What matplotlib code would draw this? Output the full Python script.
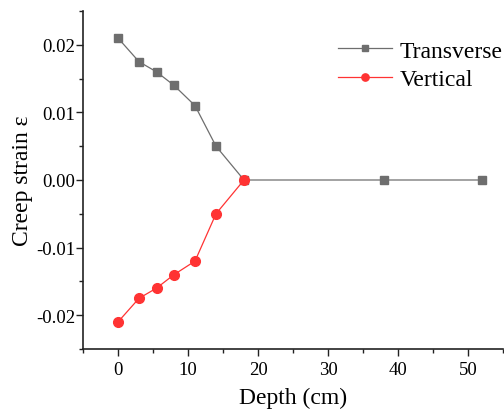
import matplotlib
matplotlib.use("Agg")
import matplotlib.pyplot as plt
from matplotlib.ticker import MultipleLocator, FuncFormatter

depth_t = [0, 3, 5.5, 8, 11, 14, 18, 38, 52]
strain_t = [0.021, 0.0175, 0.016, 0.014, 0.011, 0.005, 0.0, 0.0, 0.0]
depth_v = [0, 3, 5.5, 8, 11, 14, 18]
strain_v = [-0.021, -0.0175, -0.016, -0.014, -0.012, -0.005, 0.0]

plt.rcParams['font.family'] = ['Liberation Serif', 'DejaVu Serif']
plt.rcParams['mathtext.fontset'] = 'stix'

fig = plt.figure(figsize=(5.04, 4.14), dpi=100)
ax = fig.add_axes([83/504, 1-350/414, 420/504, 338/414])

ax.plot(depth_t, strain_t, color='#6e6e6e', lw=0.9, marker='s', ms=6, mec='#6e6e6e', label='Transverse')
ax.plot(depth_v, strain_v, color='#ff3333', lw=0.9, marker='o', ms=7, mec='#ff3333', label='Vertical')

ax.set_xlim(-5, 55)
ax.set_ylim(-0.025, 0.025)
ax.xaxis.set_major_locator(MultipleLocator(10))
ax.xaxis.set_minor_locator(MultipleLocator(5))
ax.yaxis.set_major_locator(MultipleLocator(0.01))
ax.yaxis.set_minor_locator(MultipleLocator(0.005))
ax.yaxis.set_major_formatter(FuncFormatter(lambda v, p: f"{v:.2f}".replace("-0.00", "0.00")))

for s in ['top', 'right']:
    ax.spines[s].set_visible(False)
for s in ['left', 'bottom']:
    ax.spines[s].set_linewidth(1.2)
    ax.spines[s].set_color('#222222')
ax.tick_params(which='major', direction='out', length=5, width=1.0, labelsize=13.5, colors='#222222', labelcolor='black')
ax.tick_params(axis='y', which='major', pad=0.8)
ax.tick_params(axis='x', which='major', pad=4)
ax.tick_params(which='minor', direction='out', length=3, width=1.0, colors='#222222')

ax.set_xlabel('Depth (cm)', fontsize=17, labelpad=6)
ax.set_ylabel('Creep strain ε', fontsize=17)
ax.yaxis.set_label_coords(-0.12, 0.5)

leg = ax.legend(loc='upper left', bbox_to_anchor=(338/504, 1-41/414), bbox_transform=fig.transFigure,
                frameon=False, fontsize=17, markerscale=0.75, handlelength=2.3, handletextpad=0.3,
                labelspacing=0.3, borderaxespad=0, borderpad=0)

fig.savefig('out.png', dpi=100)
